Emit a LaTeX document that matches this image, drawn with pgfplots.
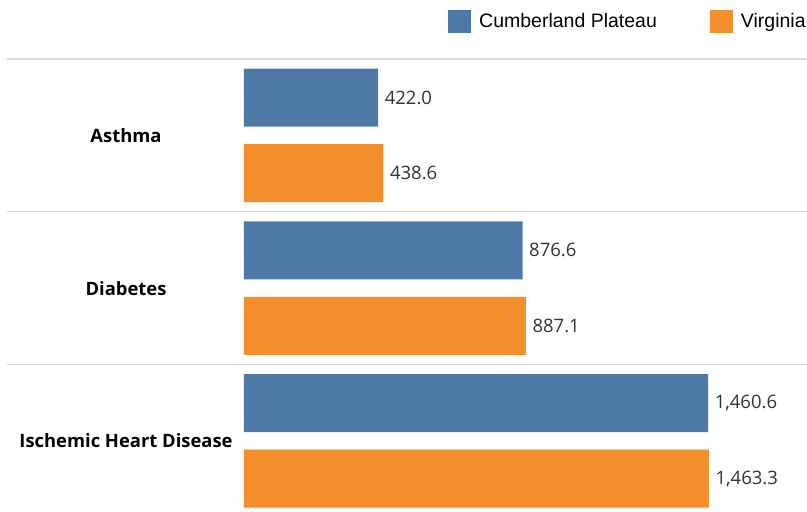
\documentclass[border=0pt]{standalone}
\usepackage{pgfplots}
\pgfplotsset{compat=1.18}
\usepackage{fontspec}
\setmainfont{Open Sans}
\newfontfamily\legfont{Liberation Sans}
\definecolor{tabblue}{RGB}{78,121,167}
\definecolor{taborange}{RGB}{242,142,43}
\definecolor{sepgray}{RGB}{217,217,217}
\definecolor{valgray}{RGB}{51,51,51}

\begin{document}
\begin{tikzpicture}
\useasboundingbox (0,0) rectangle (807pt,512pt);
\begin{axis}[
  at={(244pt,0pt)}, anchor=south west,
  scale only axis, width=563pt, height=453pt,
  xbar, bar width=58pt,
  xmin=0, xmax=1772, ymin=-0.465, ymax=2.5,
  separate axis lines,
  axis x line=none, xtick=\empty,
  axis y line*=left, y axis line style={draw=none},
  ytick={0,1,2},
  yticklabels={Ischemic Heart Disease, Diabetes, Asthma},
  major tick length=0pt, ytick style={draw=none},
  yticklabel style={font=\bfseries\fontsize{18.4}{20}\selectfont, anchor=center, xshift=-118pt},
  nodes near coords, point meta=x,
  nodes near coords style={anchor=west, inner sep=0pt, xshift=6.5pt,
    font=\fontsize{18.5}{20}\selectfont, text=valgray},
  /pgf/number format/fixed,
  /pgf/number format/fixed zerofill,
  /pgf/number format/precision=1,
  /pgf/number format/1000 sep={,},
  /pgf/number format/assume math mode=true,
  legend columns=2, legend cell align=left,
  legend style={at={(0.3623,1.0828)}, anchor=west, draw=none, fill=none,
    inner sep=0pt, nodes={inner sep=0pt},
    font=\legfont\fontsize{19.5}{22}\selectfont,
    /tikz/every odd column/.append style={column sep=8pt},
    /tikz/every even column/.append style={column sep=53pt}},
  legend image code/.code={\fill[#1] (0pt,-11.5pt) rectangle (23pt,11.5pt);},
  clip=false,
]
\addplot[fill=tabblue, draw=none, bar shift=37.75pt]
  coordinates {(1460.6,0) (876.6,1) (422.0,2)};
\addplot[fill=taborange, draw=none, bar shift=-37.75pt]
  coordinates {(1463.3,0) (887.1,1) (438.6,2)};
\legend{Cumberland Plateau, Virginia}
\draw[sepgray, line width=1.3pt] ([xshift=-237pt]axis cs:0,2.5) -- (axis cs:1772,2.5);
\draw[sepgray, line width=1.3pt] ([xshift=-237pt]axis cs:0,1.5) -- (axis cs:1772,1.5);
\draw[sepgray, line width=1.3pt] ([xshift=-237pt]axis cs:0,0.5) -- (axis cs:1772,0.5);
\end{axis}
\end{tikzpicture}
\end{document}
